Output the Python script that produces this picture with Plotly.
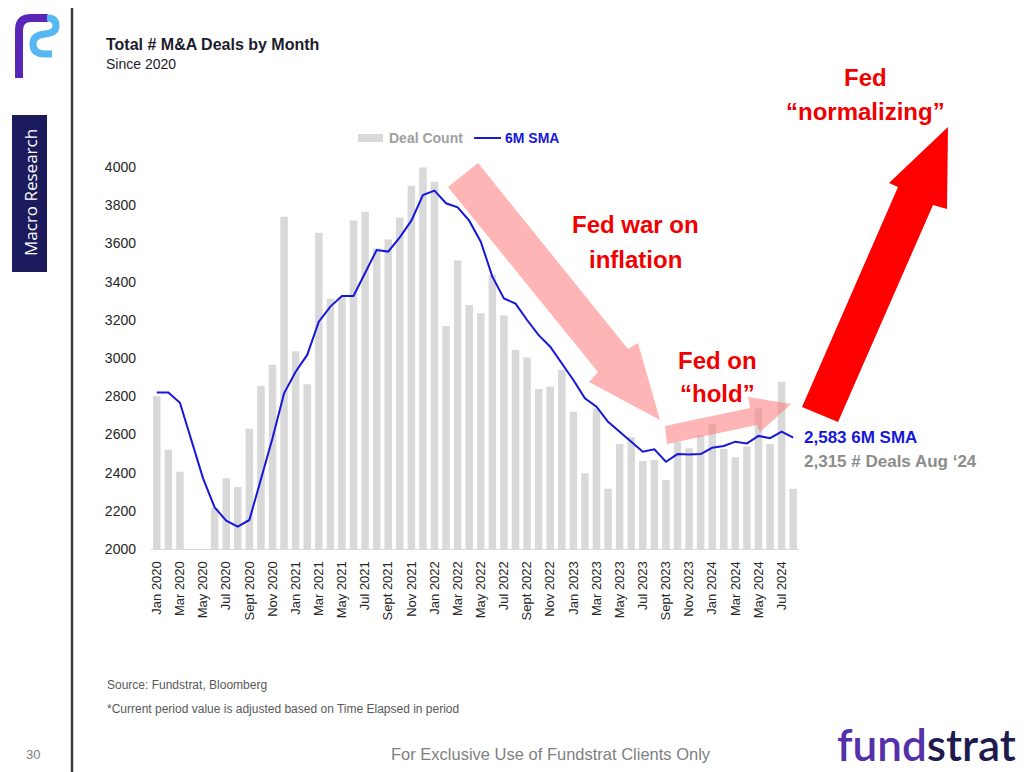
import plotly.graph_objects as go

# ---------------- data ----------------
month_names = ["Jan", "Feb", "Mar", "Apr", "May", "Jun", "Jul", "Aug", "Sept", "Oct", "Nov", "Dec"]
years = [2020, 2021, 2022, 2023, 2024]
months = [f"{m} {y}" for y in years for m in month_names][:56]  # Jan 2020 .. Aug 2024

deal_count = [
    2800, 2520, 2405, 1900, 1950, 2215, 2370, 2325, 2630, 2855, 2965, 3740,
    3035, 2862, 3656, 3310, 3320, 3720, 3766, 3575, 3620, 3735, 3902, 3998,
    3923, 3168, 3510, 3277, 3234, 3435, 3222, 3042, 3003, 2838, 2850, 2937,
    2719, 2396, 2736, 2316, 2550, 2585, 2461, 2466, 2361, 2562, 2527, 2597,
    2654, 2523, 2480, 2536, 2736, 2550, 2876, 2315,
]
sma_6m = [
    2820, 2820, 2766, 2562, 2370, 2218, 2148, 2117, 2152, 2365, 2580, 2815,
    2928, 3016, 3190, 3269, 3325, 3325, 3447, 3565, 3557, 3632, 3719, 3853,
    3876, 3810, 3789, 3719, 3609, 3426, 3312, 3285, 3199, 3120, 3059, 2972,
    2885, 2789, 2745, 2666, 2614, 2562, 2509, 2522, 2457, 2497, 2495, 2497,
    2530, 2539, 2562, 2553, 2592, 2580, 2614, 2583,
]
y_ticks = [2000, 2200, 2400, 2600, 2800, 3000, 3200, 3400, 3600, 3800, 4000]
x_tick_labels = months[::2]

# ---------------- geometry helpers (page pixel -> paper) ----------------
PAGE_W, PAGE_H = 1024, 772
BODY = 8  # default html body margin
W, H = PAGE_W - BODY, PAGE_H - BODY
L, T, R, B = 151, 167, 799, 549  # plot area in page pixels
PW, PH = R - L, B - T


def X(x):
    return (x - L) / PW


def Y(y):
    return 1 - (y - T) / PH


def poly(pts):
    return "M " + " L ".join(f"{X(x):.5f},{Y(y):.5f}" for x, y in pts) + " Z"


def path(cmds):
    out = []
    for c in cmds:
        op, pts = c[0], c[1:]
        out.append(op + " " + " ".join(f"{X(x):.5f},{Y(y):.5f}" for x, y in pts))
    return " ".join(out)


FONT = "Liberation Sans, Arial, sans-serif"

fig = go.Figure()
fig.add_trace(go.Bar(
    x=months, y=deal_count, name="Deal Count",
    marker=dict(color="#d9d9d9", line=dict(width=0)),
    showlegend=False, hoverinfo="x+y",
))
fig.add_trace(go.Scatter(
    x=months, y=sma_6m, name="6M SMA", mode="lines",
    line=dict(color="#1717d9", width=2),
    showlegend=False,
))

shapes = []
annotations = []


def ann(text, x, y, size, color, bold=False, xanchor="center", yanchor="middle",
        family=FONT, angle=0, weight=None):
    f = dict(size=size, color=color, family=family)
    if weight is not None:
        f["weight"] = weight
    annotations.append(dict(
        text=f"<b>{text}</b>" if bold else text,
        x=X(x), y=Y(y), xref="paper", yref="paper",
        xanchor=xanchor, yanchor=yanchor, showarrow=False,
        font=f, textangle=angle,
    ))


# ---- arrows ----
pink = "rgba(255,120,120,0.55)"
shapes.append(dict(type="path", xref="paper", yref="paper", layer="above",
                   path=poly([(448, 187), (478, 163), (628, 349), (638, 343),
                              (660, 420), (589, 382), (598, 372)]),
                   fillcolor=pink, line=dict(width=0)))
shapes.append(dict(type="path", xref="paper", yref="paper", layer="above",
                   path=poly([(665, 426), (750, 408), (748, 397), (791, 404),
                              (760, 432), (757, 425), (667, 444)]),
                   fillcolor=pink, line=dict(width=0)))
shapes.append(dict(type="path", xref="paper", yref="paper", layer="above",
                   path=poly([(802, 407), (898, 187), (889, 183), (948, 127),
                              (947, 209), (933, 205), (838, 422)]),
                   fillcolor="#ff0000", line=dict(width=0)))

# ---- arrow labels ----
red = "#f00000"
ann("Fed war on", 635, 224, 24, red, bold=True)
ann("inflation", 635, 259, 24, red, bold=True)
ann("Fed on", 717, 360, 24, red, bold=True)
ann("\u201chold\u201d", 717, 393, 24, red, bold=True)
ann("Fed", 865, 77, 24, red, bold=True)
ann("\u201cnormalizing\u201d", 865, 112, 24, red, bold=True)

# ---- end labels ----
ann("2,583 6M SMA", 802, 437, 17, "#1717d9", bold=True, xanchor="left")
ann("2,315 # Deals Aug \u201824", 802, 461, 17, "#8c8c8c", bold=True, xanchor="left")

# ---- custom legend ----
shapes.append(dict(type="rect", xref="paper", yref="paper", layer="above",
                   x0=X(358), x1=X(383), y0=Y(134), y1=Y(142),
                   fillcolor="#d9d9d9", line=dict(width=0)))
ann("Deal Count", 387, 138, 14, "#a0a0a0", bold=True, xanchor="left")
shapes.append(dict(type="line", xref="paper", yref="paper", layer="above",
                   x0=X(474), x1=X(501), y0=Y(138), y1=Y(138),
                   line=dict(color="#1717d9", width=2)))
ann("6M SMA", 503, 138, 14, "#1717d9", bold=True, xanchor="left")

# ---- titles ----
ann("Total # M&amp;A Deals by Month", 104, 44, 16, "#1c1c2e", bold=True, xanchor="left")
ann("Since 2020", 104, 64, 14, "#1c1c2e", xanchor="left")

# ---- source notes ----
NARROW = "Liberation Sans Narrow, Arial Narrow, sans-serif"
ann("Source: Fundstrat, Bloomberg", 105, 685, 12, "#595959", xanchor="left", family=NARROW)
ann("*Current period value is adjusted based on Time Elapsed in period", 105, 709, 12,
    "#595959", xanchor="left", family=NARROW)

# ---- page decoration ----
shapes.append(dict(type="line", xref="paper", yref="paper", layer="above",
                   x0=X(72), x1=X(72), y0=Y(BODY), y1=Y(PAGE_H),
                   line=dict(color="#3c3c3c", width=2.5)))
shapes.append(dict(type="rect", xref="paper", yref="paper", layer="above",
                   x0=X(12), x1=X(47), y0=Y(115), y1=Y(272),
                   fillcolor="#1b1a5c", line=dict(width=0)))
ann("Macro Research", 30, 193, 17, "#ffffff", angle=-90, family="Open Sans, sans-serif")
ann("30", 33, 754, 13, "#7f7f7f")
ann("For Exclusive Use of Fundstrat Clients Only", 551, 754, 16.5, "#7f7f7f")
ann("<span style='color:#5530a8'>fund</span><span style='color:#1e1c4e'>strat</span>",
    926, 744, 44, "#1e1c4e", family="Lato, sans-serif", weight=600)

# logo (stylised F)
shapes.append(dict(type="path", xref="paper", yref="paper", layer="above",
                   path=path([("M", (19, 78)), ("L", (19, 30)), ("Q", (19, 18), (31, 18)),
                              ("L", (48, 18))]),
                   line=dict(color="#5a26b8", width=8)))
shapes.append(dict(type="path", xref="paper", yref="paper", layer="above",
                   path=path([("M", (47, 18)), ("Q", (56, 18), (56, 26)), ("Q", (56, 33), (45, 34)),
                              ("Q", (33, 35), (33, 44)), ("Q", (33, 54), (45, 54)), ("L", (52, 54))]),
                   line=dict(color="#55b8f2", width=7)))

fig.update_layout(
    width=W, height=H,
    margin=dict(l=L - BODY, r=W - (R - BODY), t=T - BODY, b=H - (B - BODY), pad=0),
    paper_bgcolor="white", plot_bgcolor="white",
    bargap=0.35,
    font=dict(family=FONT, color="#262626"),
    shapes=shapes, annotations=annotations,
    showlegend=False,
    xaxis=dict(
        type="category", categoryorder="array", categoryarray=months,
        range=[-0.5, len(months) - 0.5],
        tickmode="array", tickvals=x_tick_labels, ticktext=x_tick_labels,
        tickangle=-90, tickfont=dict(size=13, color="#262626"),
        showline=True, linecolor="#d9d9d9", linewidth=1,
        showgrid=False, ticks="", ticklabelstandoff=6,
    ),
    yaxis=dict(
        range=[2000, 4000], tickmode="array", tickvals=y_ticks,
        tickfont=dict(size=14, color="#262626"),
        showgrid=False, zeroline=False, showline=False, ticks="",
        ticklabelstandoff=14,
    ),
)

fig.write_html("out.html")
